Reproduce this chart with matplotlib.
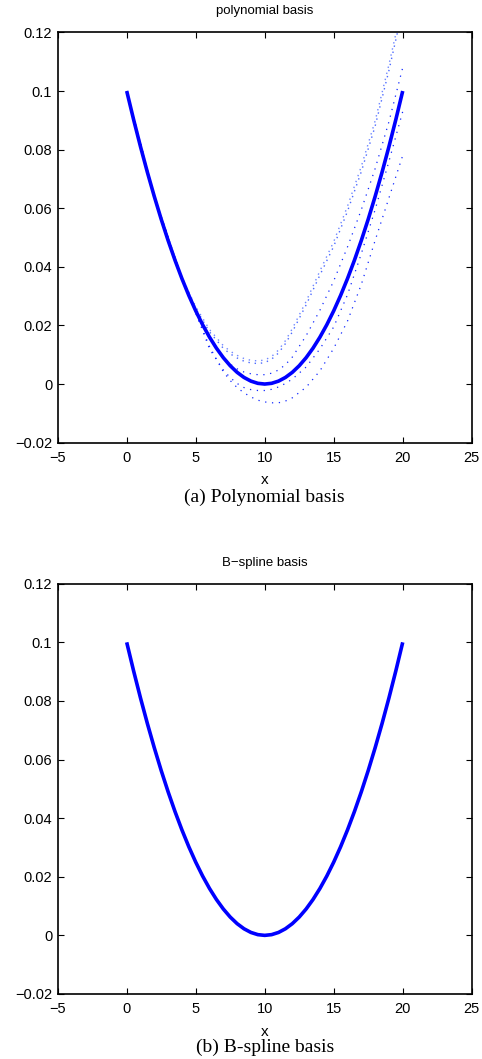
import matplotlib
matplotlib.use("Agg")
import matplotlib.pyplot as plt

# x positions of the thick fitted curve (half steps)
x_fit = [0, 0.5, 1, 1.5, 2, 2.5, 3, 3.5, 4, 4.5, 5, 5.5, 6, 6.5, 7, 7.5, 8, 8.5, 9, 9.5, 10,
         10.5, 11, 11.5, 12, 12.5, 13, 13.5, 14, 14.5, 15, 15.5, 16, 16.5, 17, 17.5, 18, 18.5,
         19, 19.5, 20]
fit = [0.1, 0.09025, 0.081, 0.07225, 0.064, 0.05625, 0.049, 0.04225, 0.036, 0.03025, 0.025,
       0.02025, 0.016, 0.01225, 0.009, 0.00625, 0.004, 0.00225, 0.001, 0.00025, 0.0,
       0.00025, 0.001, 0.00225, 0.004, 0.00625, 0.009, 0.01225, 0.016, 0.02025, 0.025,
       0.03025, 0.036, 0.04225, 0.049, 0.05625, 0.064, 0.07225, 0.081, 0.09025, 0.1]

# x positions of the dotted curves (polynomial panel)
x_dot = [0, 2, 4, 5, 6, 7, 7.5, 8, 8.5, 9, 9.5, 10, 10.5, 11, 11.5, 12, 13, 14, 15, 16, 17,
         18, 19, 20]
upper_a = [0.1, 0.064, 0.0362, 0.0258, 0.0178, 0.0122, 0.0103, 0.0089, 0.0078, 0.0072, 0.0070,
           0.0073, 0.0085, 0.0106, 0.0138, 0.0178, 0.027, 0.0372, 0.047, 0.059, 0.0725,
           0.088, 0.107, 0.128]
upper_b = [0.1, 0.064, 0.0364, 0.0264, 0.0186, 0.0131, 0.0112, 0.0098, 0.0087, 0.0081, 0.0079,
           0.0082, 0.0094, 0.0116, 0.0148, 0.0189, 0.0282, 0.0386, 0.0486, 0.0607, 0.0743,
           0.0898, 0.109, 0.130]
mid_hi = [0.1, 0.064, 0.036, 0.025, 0.0161, 0.0093, 0.0068, 0.0052, 0.0041, 0.0035, 0.0032,
          0.0032, 0.0037, 0.0048, 0.0066, 0.0092, 0.0165, 0.0252, 0.0352, 0.0468, 0.0595,
          0.0735, 0.0895, 0.108]
mid_lo = [0.1, 0.064, 0.036, 0.0245, 0.012, 0.0048, 0.0022, 0.0002, -0.0012, -0.0019, -0.0022,
          -0.0022, -0.0018, -0.0010, 0.0002, 0.0017, 0.0058, 0.0120, 0.0195, 0.0305, 0.0445,
          0.0595, 0.076, 0.093]
low = [0.1, 0.064, 0.036, 0.0242, 0.0128, 0.0042, 0.0012, -0.0012, -0.003, -0.0044, -0.0055,
       -0.0061, -0.0064, -0.0064, -0.0058, -0.0047, -0.0011, 0.0045, 0.0122, 0.0215, 0.034,
       0.049, 0.0635, 0.078]

xticks = [-5, 0, 5, 10, 15, 20, 25]
yticks = [-0.02, 0, 0.02, 0.04, 0.06, 0.08, 0.1, 0.12]
ytick_labels = ["\u22120.02", "0", "0.02", "0.04", "0.06", "0.08", "0.1", "0.12"]
xtick_labels = ["\u22125", "0", "5", "10", "15", "20", "25"]

plt.rcParams['font.family'] = ['Liberation Sans', 'DejaVu Sans']

fig = plt.figure(figsize=(4.82, 10.59), dpi=100)

ax1 = fig.add_axes([0.1197, 0.5820, 0.859, 0.3874])
ax2 = fig.add_axes([0.1197, 0.0614, 0.859, 0.3874])


def style_axes(ax, title):
    ax.set_xlim(-5, 25)
    ax.set_ylim(-0.02, 0.12)
    ax.set_xticks(xticks)
    ax.set_xticklabels(xtick_labels)
    ax.set_yticks(yticks)
    ax.set_yticklabels(ytick_labels)
    ax.tick_params(direction='in', length=4, width=0.8, top=True, right=True,
                   labelsize=10.5, pad=6)
    ax.tick_params(axis='y', pad=4)
    for sp in ax.spines.values():
        sp.set_linewidth(1.2)
    ax.set_title(title, fontsize=9.5, pad=13)
    ax.set_xlabel('x', fontsize=11, labelpad=6)


# dotted curves first so the thick line sits on top
ax1.plot(x_dot, upper_a, color='#4a68ff', lw=1.0, linestyle=(0, (1, 3.5)))
ax1.plot(x_dot, upper_b, color='#7088ff', lw=1.0, linestyle=(1.5, (1, 3.5)))
ax1.plot(x_dot, mid_hi, color='#1028ff', lw=0.9, linestyle=(0, (1, 4.5)))
ax1.plot(x_dot, mid_lo, color='#1028ff', lw=0.9, linestyle=(0, (1, 4.5)))
ax1.plot(x_dot, low, color='#1028ff', lw=0.9, linestyle=(0, (1, 4.5)))
ax1.plot(x_fit, fit, color='#0000ff', lw=2.6, solid_capstyle='butt')
style_axes(ax1, 'polynomial basis')

ax2.plot(x_fit, fit, color='#0000ff', lw=2.6, solid_capstyle='butt')
style_axes(ax2, 'B\u2212spline basis')

cx = 0.1197 + 0.859 / 2
fig.text(cx, 1 - 497 / 1059, '(a) Polynomial basis', ha='center', va='center',
         family=['Liberation Serif', 'DejaVu Serif'], fontsize=14)
fig.text(cx, 1 - 1047 / 1059, '(b) B-spline basis', ha='center', va='center',
         family=['Liberation Serif', 'DejaVu Serif'], fontsize=14)

fig.savefig('out.png', dpi=100)
